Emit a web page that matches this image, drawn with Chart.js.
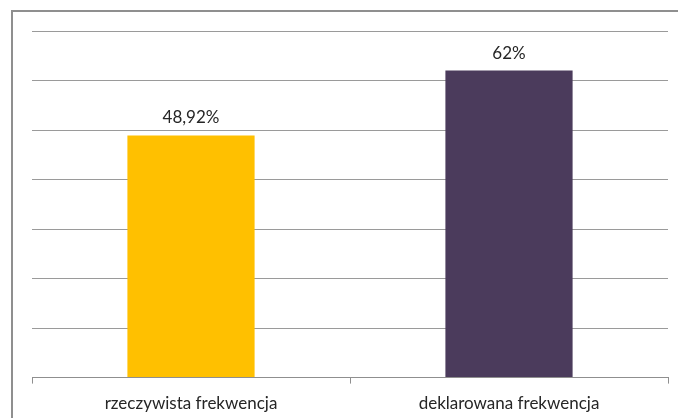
<!DOCTYPE html>
<html>
<head>
<meta charset="utf-8">
<script src="https://cdn.jsdelivr.net/npm/chart.js@4.4.0/dist/chart.umd.min.js"></script>
<style>
  html, body { margin: 0; padding: 0; background: #fff; overflow: hidden; }
  #wrap { width: 678px; height: 418px; position: relative; overflow: hidden; }
</style>
</head>
<body>
<div id="wrap"><canvas id="myChart" width="678" height="430"></canvas></div>
<script>
// data
var categories = ["rzeczywista frekwencja", "deklarowana frekwencja"];
var values = [48.92, 62];
var valueLabels = ["48,92%", "62%"];
var barColors = ["#FFC000", "#4B3B5C"];
var yMax = 70;
var yStep = 10;

var FONT = "Lato, 'Open Sans', sans-serif";

// frame around the chart and value labels over bars
var framePlugin = {
  id: 'frame',
  beforeDraw: function(chart) {
    var c = chart.ctx;
    c.save();
    c.strokeStyle = '#8f8f8f';
    c.lineWidth = 2;
    c.strokeRect(12, 11, 720, 480);
    c.restore();
  },
  afterDatasetsDraw: function(chart) {
    var c = chart.ctx;
    var meta = chart.getDatasetMeta(0);
    c.save();
    c.fillStyle = '#262626';
    c.font = '17px ' + FONT;
    c.textAlign = 'center';
    c.textBaseline = 'bottom';
    meta.data.forEach(function(bar, i) {
      c.fillText(valueLabels[i], bar.x, bar.y - 9);
    });
    c.restore();
  }
};

var ctx = document.getElementById('myChart').getContext('2d');
var chart = new Chart(ctx, {
  type: 'bar',
  data: {
    labels: categories,
    datasets: [{
      data: values,
      backgroundColor: barColors,
      borderWidth: 0,
      categoryPercentage: 0.4,
      barPercentage: 1
    }]
  },
  options: {
    responsive: false,
    animation: false,
    layout: { padding: { left: 32, right: 10, top: 31, bottom: 6 } },
    plugins: {
      legend: { display: false },
      tooltip: { enabled: false }
    },
    scales: {
      x: {
        grid: {
          drawOnChartArea: false,
          drawTicks: true,
          tickLength: 6,
          color: '#8f8f8f',
          lineWidth: 1
        },
        border: { display: true, color: '#8f8f8f', width: 1 },
        ticks: {
          color: '#262626',
          font: { family: FONT, size: 17 },
          padding: 10,
          maxRotation: 0
        }
      },
      y: {
        min: 0,
        max: yMax,
        afterFit: function(scale) { scale.width = 0; },
        ticks: { display: false, stepSize: yStep },
        grid: { drawTicks: false, color: '#9a9a9a', lineWidth: 1 },
        border: { display: false }
      }
    }
  },
  plugins: [framePlugin]
});
</script>
</body>
</html>
